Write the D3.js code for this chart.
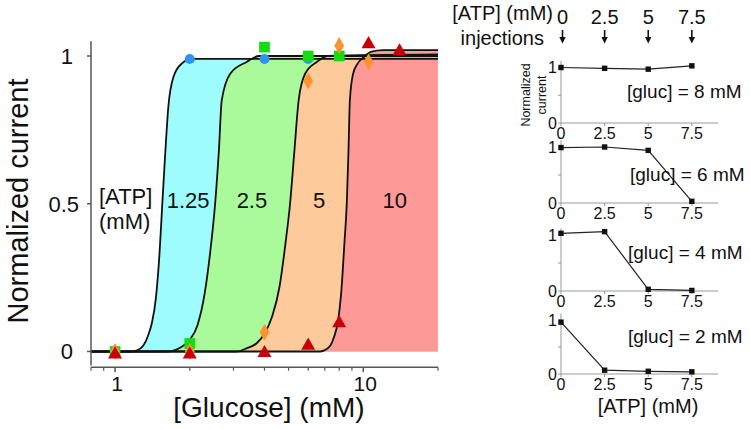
<!DOCTYPE html>
<html><head><meta charset="utf-8">
<script src="https://cdn.jsdelivr.net/npm/d3@7"></script>
<style>body{margin:0;background:#fff}svg{display:block}text{font-family:"Liberation Sans",Arial,sans-serif;fill:#111}</style>
</head><body>
<svg id="c" width="750" height="429"></svg>
<script>
// ---------- data: main panel ----------
const atpLevels = ["1.25", "2.5", "5", "10"];
// fitted curves (glucose mM, normalized current)
const curveA_g = [0.8,1.15,1.22,1.3,1.36,1.41,1.46,1.51,1.55,1.59,1.64,1.72,1.86,2.05,20];
const curveA_v = [0,0,0.003,0.02,0.055,0.1,0.18,0.33,0.5,0.66,0.83,0.93,0.975,0.99,0.99];
const curveB_g = [0.8,1.6,1.72,1.85,2.0,2.15,2.3,2.42,2.53,2.62,2.69,2.91,3.39,3.8,20];
const curveB_v = [0,0,0.003,0.015,0.04,0.09,0.2,0.34,0.5,0.68,0.85,0.94,0.98,1.0,1.0];
const curveC_g = [0.8,3.1,3.39,3.72,4.0,4.3,4.6,4.85,5.07,5.28,5.49,5.83,6.5,7.2,20];
const curveC_v = [0,0,0.011,0.028,0.06,0.12,0.22,0.36,0.5,0.68,0.85,0.94,0.98,1.0,1.005];
const curveD_g = [0.8,6.7,6.93,7.37,7.63,7.9,8.15,8.4,8.58,8.72,8.83,9.1,9.5,10.0,10.8,12,20];
const curveD_v = [0,0,0.003,0.02,0.05,0.1,0.2,0.37,0.5,0.68,0.85,0.94,0.975,0.995,1.015,1.02,1.02];
// measured points
const blue_g = [1,2,4,6];
const blue_v = [0,0.99,0.99,0.99];
const green_g = [1,2,4,6,8];
const green_v = [0,0.027,1.03,1.0,1.0];
const orange_g = [1,2,4,6,8,10.5];
const orange_v = [0,0,0.065,0.915,1.035,0.98];
const red_g = [1,2,4,6,8,10.5,14];
const red_v = [-0.01,-0.01,-0.005,0.02,0.096,1.04,1.016];
const mainYTicks = [0, 0.5, 1];
const mainXMajor = [1, 10];
const mainXMinor = [0.8,0.9,2,3,4,5,6,7,8,9,20];

// ---------- data: right panels ----------
const atpInj = [0, 2.5, 5, 7.5];
const atpInjLabels = ["0", "2.5", "5", "7.5"];
const gluc8 = [1.0, 0.985, 0.97, 1.03];
const gluc6 = [0.99, 1.0, 0.94, 0.03];
const gluc4 = [1.03, 1.06, 0.03, 0.01];
const gluc2 = [0.96, 0.07, 0.05, 0.04];
const panelLabels = ["[gluc] = 8 mM", "[gluc] = 6 mM", "[gluc] = 4 mM", "[gluc] = 2 mM"];

const svg = d3.select("#c");

// ---------- main chart ----------
const xs = d3.scaleLog().domain([0.8, 20]).range([91, 438]);
const ys = d3.scaleLinear().domain([0, 1]).range([351.5, 56]);

const curves = [
  {g: curveA_g, v: curveA_v, fill: "#9ffcfc"},
  {g: curveB_g, v: curveB_v, fill: "#aaf99a"},
  {g: curveC_g, v: curveC_v, fill: "#fdcb9b"},
  {g: curveD_g, v: curveD_v, fill: "#fd9a98"}
];
const area = d3.area().x(d => xs(d[0])).y0(ys(0)).y1(d => ys(d[1])).curve(d3.curveMonotoneX);
const line = d3.line().x(d => xs(d[0])).y(d => ys(d[1])).curve(d3.curveMonotoneX);
curves.forEach(c => {
  const pts = c.g.map((g, i) => [g, c.v[i]]);
  svg.append("path").attr("d", area(pts)).attr("fill", c.fill);
});
curves.forEach(c => {
  const pts = c.g.map((g, i) => [g, c.v[i]]);
  svg.append("path").attr("d", line(pts)).attr("fill", "none").attr("stroke", "#111").attr("stroke-width", 1.8);
});

// axes
const axCol = "#555";
svg.append("line").attr("x1", xs(0.8)).attr("x2", xs(0.8)).attr("y1", ys(1.05)).attr("y2", ys(-0.047))
  .attr("stroke", axCol).attr("stroke-width", 1.5);
svg.append("line").attr("x1", xs(0.8)).attr("x2", xs(20)).attr("y1", ys(-0.053)).attr("y2", ys(-0.053))
  .attr("stroke", axCol).attr("stroke-width", 1.5);
const xAxisY = ys(-0.053);
mainYTicks.forEach(t => {
  svg.append("line").attr("x1", xs(0.8) - 4).attr("x2", xs(0.8)).attr("y1", ys(t)).attr("y2", ys(t))
    .attr("stroke", axCol).attr("stroke-width", 1.5);
  svg.append("text").attr("x", t === 0.5 ? 79 : 73).attr("y", ys(t)).attr("dy", "0.36em")
    .attr("text-anchor", "end").style("font-size", "22px").text(d3.format("")(t));
});
mainXMajor.forEach(t => {
  svg.append("line").attr("x1", xs(t)).attr("x2", xs(t)).attr("y1", xAxisY).attr("y2", xAxisY + 5)
    .attr("stroke", axCol).attr("stroke-width", 1.5);
  svg.append("text").attr("x", xs(t) + 2).attr("y", 391).attr("text-anchor", "middle")
    .style("font-size", "21px").text(t);
});
mainXMinor.forEach(t => {
  svg.append("line").attr("x1", xs(t)).attr("x2", xs(t)).attr("y1", xAxisY).attr("y2", xAxisY + 3.5)
    .attr("stroke", axCol).attr("stroke-width", 1.2);
});

// markers
const markerSets = [
  {g: blue_g, v: blue_v, col: "#2f93f0", shape: d3.symbolCircle, size: 80},
  {g: green_g, v: green_v, col: "#11dd11", shape: d3.symbolSquare, size: 115},
  {g: orange_g, v: orange_v, col: "#fb9430", shape: d3.symbolDiamond, size: 85},
  {g: red_g, v: red_v, col: "#c8000a", shape: d3.symbolTriangle, size: 85}
];
markerSets.forEach(m => {
  m.g.forEach((g, i) => {
    svg.append("path").attr("d", d3.symbol().type(m.shape).size(m.size)())
      .attr("transform", `translate(${xs(g)},${ys(m.v[i])})`).attr("fill", m.col);
  });
});

// region labels
svg.append("text").attr("x", 99).attr("y", 204).style("font-size", "22px").text("[ATP]");
svg.append("text").attr("x", 99).attr("y", 229).style("font-size", "22px").text("(mM)");
const labelX = [1.97, 3.56, 6.64, 13.4];
atpLevels.forEach((l, i) => {
  svg.append("text").attr("x", xs(labelX[i])).attr("y", 208).attr("text-anchor", "middle")
    .style("font-size", "22px").text(l);
});

// axis titles
svg.append("text").attr("transform", "translate(28,201) rotate(-90)").attr("text-anchor", "middle")
  .style("font-size", "29px").text("Normalized current");
svg.append("text").attr("x", 269).attr("y", 417).attr("text-anchor", "middle")
  .style("font-size", "28px").text("[Glucose] (mM)");

// ---------- right panels ----------
const px = d3.scaleLinear().domain([0, 9]).range([561, 718]);
const panels = [
  {v: gluc8, y0: 123, y1: 67.5, lab: panelLabels[0], lx: 627, ly: 98, bg: false},
  {v: gluc6, y0: 203, y1: 147, lab: panelLabels[1], lx: 630, ly: 181, bg: true},
  {v: gluc4, y0: 291, y1: 235, lab: panelLabels[2], lx: 628, ly: 259, bg: false},
  {v: gluc2, y0: 374, y1: 320, lab: panelLabels[3], lx: 628, ly: 343, bg: false}
];
const pCol = "#999";
panels.forEach((p, k) => {
  const py = d3.scaleLinear().domain([0, 1]).range([p.y0, p.y1]);
  const g = svg.append("g");
  g.append("line").attr("x1", px(0)).attr("x2", px(0)).attr("y1", py(1.12)).attr("y2", py(0))
    .attr("stroke", pCol).attr("stroke-width", 1);
  g.append("line").attr("x1", px(0)).attr("x2", px(9)).attr("y1", py(0)).attr("y2", py(0))
    .attr("stroke", pCol).attr("stroke-width", 1);
  [0, 0.5, 1].forEach(t => g.append("line").attr("x1", px(0) - 3).attr("x2", px(0))
    .attr("y1", py(t)).attr("y2", py(t)).attr("stroke", pCol));
  atpInj.forEach(t => g.append("line").attr("x1", px(t)).attr("x2", px(t))
    .attr("y1", py(0)).attr("y2", py(0) + 3).attr("stroke", pCol));
  [0, 1].forEach(t => g.append("text").attr("x", 557).attr("y", py(t)).attr("dy", "0.36em")
    .attr("text-anchor", "end").style("font-size", "16px").text(t));
  atpInj.forEach((t, i) => g.append("text").attr("x", px(t)).attr("y", p.y0 + 16)
    .attr("text-anchor", "middle").style("font-size", "16px").text(atpInjLabels[i]));
  const pl = d3.line().x((d, i) => px(atpInj[i])).y(d => py(d));
  g.append("path").attr("d", pl(p.v)).attr("fill", "none").attr("stroke", "#222").attr("stroke-width", 1.2);
  p.v.forEach((d, i) => g.append("rect").attr("x", px(atpInj[i]) - 2.7).attr("y", py(d) - 2.7)
    .attr("width", 5.4).attr("height", 5.4).attr("fill", "#111"));
  const t = g.append("text").attr("x", p.lx).attr("y", p.ly).style("font-size", "19px").text(p.lab);
  if (p.bg) {
    const b = t.node().getBBox();
    g.insert("rect", "text").attr("x", b.x - 3).attr("y", b.y + 2).attr("width", b.width + 6)
      .attr("height", b.height - 2).attr("fill", "#fff");
  }
});
// small y title of first panel
svg.append("text").attr("transform", "translate(530,95) rotate(-90)").attr("text-anchor", "middle")
  .style("font-size", "12.5px").text("Normalized");
svg.append("text").attr("transform", "translate(546,95) rotate(-90)").attr("text-anchor", "middle")
  .style("font-size", "12.5px").text("current");
svg.append("text").attr("x", 648).attr("y", 413).attr("text-anchor", "middle")
  .style("font-size", "20px").text("[ATP] (mM)");

// header: injections
svg.append("text").attr("x", 553).attr("y", 20).attr("text-anchor", "end").style("font-size", "20px").text("[ATP] (mM)");
svg.append("text").attr("x", 544).attr("y", 45).attr("text-anchor", "end").style("font-size", "20px").text("injections");
atpInj.forEach((t, i) => {
  const x = px(t) + (i === 0 ? 1.5 : 0);
  svg.append("text").attr("x", x).attr("y", 24).attr("text-anchor", "middle").style("font-size", "20px").text(atpInjLabels[i]);
  svg.append("line").attr("x1", x).attr("x2", x).attr("y1", 30).attr("y2", 38).attr("stroke", "#111").attr("stroke-width", 1.6);
  svg.append("path").attr("d", `M${x - 3.2},37 L${x + 3.2},37 L${x},43.5 Z`).attr("fill", "#111");
});
</script>
</body></html>
